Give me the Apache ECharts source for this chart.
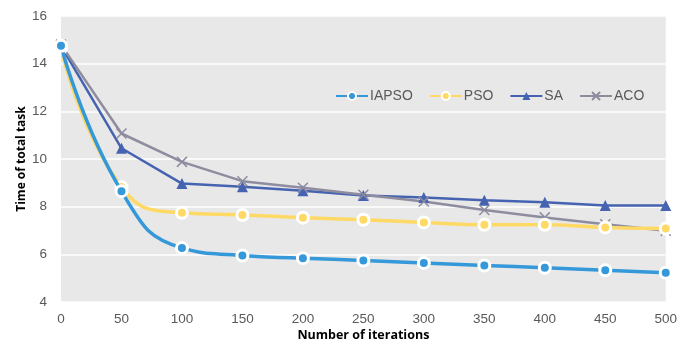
<!DOCTYPE html>
<html><head><meta charset="utf-8">
<script src="https://cdn.jsdelivr.net/npm/echarts@6/dist/echarts.min.js"></script>
<style>html,body{margin:0;padding:0;background:#fff}#c{width:680px;height:347px}</style>
</head><body><div id="c"></div>
<script>
const iterations = [0, 50, 100, 150, 200, 250, 300, 350, 400, 450, 500];
const iapso = [14.75, 8.65, 6.27, 5.95, 5.84, 5.74, 5.64, 5.53, 5.44, 5.33, 5.23];
const pso   = [14.65, 8.82, 7.74, 7.65, 7.54, 7.45, 7.34, 7.24, 7.24, 7.13, 7.08];
const sa    = [14.75, 10.45, 8.97, 8.84, 8.67, 8.47, 8.38, 8.27, 8.19, 8.05, 8.05];
const aco   = [14.8, 11.07, 9.88, 9.07, 8.79, 8.5, 8.22, 7.86, 7.55, 7.26, 6.99];
const yTicks = [4, 6, 8, 10, 12, 14, 16];

const pair = arr => iterations.map((x, i) => [x, arr[i]]);
const xPath = 'path://M0,0L10,10M10,0L0,10';

const chart = echarts.init(document.getElementById('c'), null, {renderer: 'canvas'});
chart.setOption({
  animation: false,
  backgroundColor: '#ffffff',
  textStyle: {fontFamily: 'Open Sans'},
  grid: {left: 61, right: 11, top: 16, bottom: 44, show: true, backgroundColor: '#e8e8e8', borderWidth: 0},
  legend: {
    top: 84, left: 330, itemWidth: 32, itemHeight: 10, itemGap: 16,
    textStyle: {color: '#595959', fontSize: 14, fontFamily: 'Liberation Sans', padding: [0, 0, 0, -3]},
    data: ['IAPSO', 'PSO', 'SA', 'ACO']
  },
  xAxis: {
    type: 'value', min: 0, max: 500, interval: 50,
    name: 'Number of iterations', nameLocation: 'middle', nameGap: 27, nameMoveOverlap: false,
    nameTextStyle: {fontWeight: 'bold', fontSize: 12.5, color: '#000', fontFamily: 'Open Sans'},
    axisLine: {show: false}, axisTick: {show: false}, splitLine: {show: false},
    axisLabel: {color: '#595959', fontSize: 13.5, margin: 10, fontFamily: 'Liberation Sans'}
  },
  yAxis: {
    type: 'value', min: yTicks[0], max: yTicks[yTicks.length - 1], interval: 2,
    name: 'Time of total task', nameLocation: 'middle', nameGap: 33, nameMoveOverlap: false,
    nameTextStyle: {fontWeight: 'bold', fontSize: 12, color: '#000', fontFamily: 'Open Sans'},
    axisLine: {show: false}, axisTick: {show: false},
    splitLine: {lineStyle: {color: '#ffffff', width: 1.5}},
    axisLabel: {color: '#595959', fontSize: 13.5, margin: 14, fontFamily: 'Liberation Sans'}
  },
  series: [
    {name: 'IAPSO', type: 'line', data: pair(iapso), smooth: 0.5,
     symbol: 'circle', symbolSize: 11, z: 4,
     lineStyle: {color: '#3598d8', width: 3.5},
     itemStyle: {color: '#3598d8', borderColor: '#ffffff', borderWidth: 3}},
    {name: 'PSO', type: 'line', data: pair(pso), smooth: 0.5,
     symbol: 'circle', symbolSize: 11, z: 3,
     lineStyle: {color: '#ffd966', width: 3.5},
     itemStyle: {color: '#ffd966', borderColor: '#ffffff', borderWidth: 3}},
    {name: 'SA', type: 'line', data: pair(sa),
     symbol: 'triangle', symbolSize: 11, z: 2,
     lineStyle: {color: '#4563b0', width: 2.5},
     itemStyle: {color: '#4563b0'}},
    {name: 'ACO', type: 'line', data: pair(aco),
     symbol: xPath, symbolSize: 10, z: 2,
     lineStyle: {color: '#8e8c9f', width: 2.5},
     itemStyle: {color: 'none', borderColor: '#8e8c9f', borderWidth: 1.5}}
  ]
});
</script></body></html>
